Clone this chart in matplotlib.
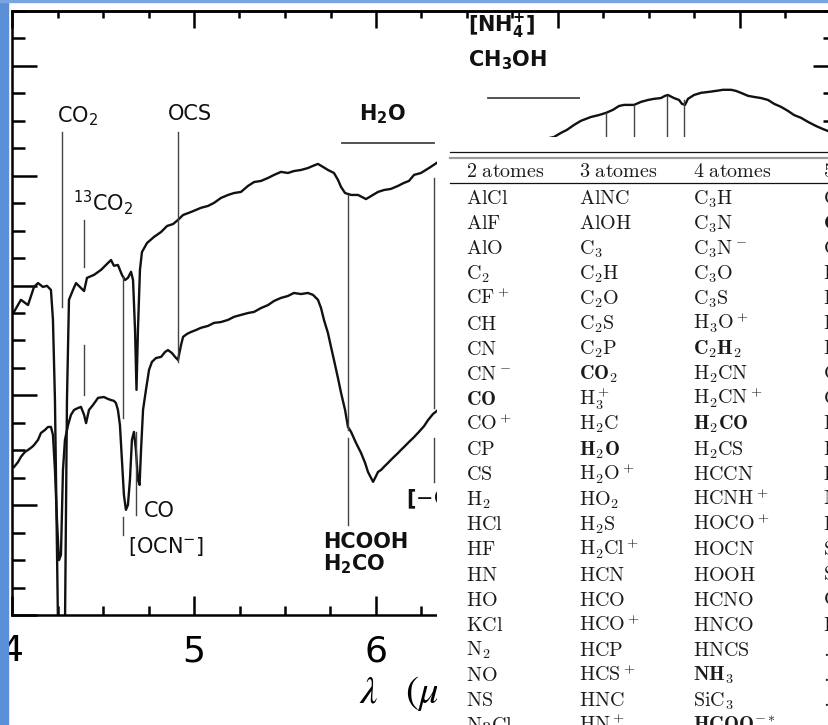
import matplotlib.pyplot as plt
from matplotlib.ticker import MultipleLocator
from matplotlib.patches import Rectangle

plt.rcParams['font.family'] = 'DejaVu Sans'
plt.rcParams['mathtext.fontset'] = 'dejavusans'

# --- ISO spectra (wavelength in micron, flux in arbitrary units) ---
wl_top = [4.011, 4.049, 4.088, 4.121, 4.143, 4.170, 4.192, 4.214, 4.225, 4.236,
          4.253, 4.291, 4.302, 4.313, 4.335, 4.352, 4.379, 4.396, 4.412, 4.451,
          4.489, 4.527, 4.544, 4.560, 4.582, 4.604, 4.621, 4.637, 4.654, 4.665,
          4.676, 4.684, 4.692, 4.703, 4.714, 4.742, 4.780, 4.819, 4.852, 4.885,
          4.912, 4.940, 4.984, 5.038, 5.077, 5.110, 5.148, 5.187, 5.220, 5.258,
          5.297, 5.330, 5.368, 5.407, 5.440, 5.478, 5.516, 5.549, 5.588, 5.626,
          5.654, 5.681, 5.709, 5.736, 5.769, 5.791, 5.808, 5.830, 5.863, 5.901,
          5.945, 5.973, 6.011, 6.044, 6.082, 6.121, 6.154, 6.181, 6.209, 6.247,
          6.291, 6.341, 6.978, 7.016, 7.049, 7.088, 7.126, 7.181, 7.225, 7.264,
          7.302, 7.335, 7.363, 7.418, 7.456, 7.495, 7.527, 7.566, 7.588, 7.604,
          7.637, 7.665, 7.681, 7.698, 7.714, 7.747, 7.786, 7.824, 7.868, 7.907,
          7.951, 7.978, 8.005, 8.044, 8.077, 8.115, 8.154, 8.187, 8.225, 8.264,
          8.297, 8.335, 8.374, 8.418, 8.456, 8.495, 8.527]
flux_top = [11.04, 11.48, 11.29, 11.95, 12.09, 11.95, 11.99, 11.84, 10.75, 7.83,
            -0.5, -0.5, 7.83, 11.48, 11.84, 12.09, 11.91, 11.80, 12.28, 12.39,
            12.57, 12.82, 12.93, 12.72, 12.75, 12.39, 12.20, 12.28, 12.50, 12.20,
            10.38, 8.20, 10.38, 12.57, 13.22, 13.55, 13.77, 13.95, 14.17, 14.24,
            14.39, 14.57, 14.68, 14.83, 14.90, 15.01, 15.19, 15.30, 15.37, 15.41,
            15.63, 15.77, 15.81, 15.92, 16.03, 16.14, 16.10, 16.17, 16.21, 16.28,
            16.36, 16.43, 16.32, 16.21, 16.10, 15.85, 15.59, 15.37, 15.30, 15.30,
            15.15, 15.26, 15.41, 15.48, 15.52, 15.63, 15.74, 15.81, 16.03, 16.10,
            16.28, 16.50, 17.41, 17.56, 17.67, 17.85, 18.00, 18.14, 18.21, 18.29,
            18.40, 18.54, 18.58, 18.58, 18.69, 18.76, 18.80, 18.83, 18.91, 18.94,
            18.83, 18.76, 18.62, 18.58, 18.80, 18.94, 19.02, 19.05, 19.09, 19.13,
            19.13, 19.09, 19.02, 18.91, 18.87, 18.83, 18.76, 18.62, 18.51, 18.36,
            18.21, 18.11, 17.96, 17.81, 17.70, 17.60, 17.49]

wl_bot = [4.011, 4.033, 4.049, 4.071, 4.088, 4.110, 4.121, 4.143, 4.159, 4.181,
          4.198, 4.214, 4.225, 4.236, 4.247, 4.258, 4.269, 4.280, 4.291, 4.308,
          4.324, 4.341, 4.363, 4.379, 4.396, 4.407, 4.423, 4.445, 4.473, 4.505,
          4.527, 4.544, 4.560, 4.571, 4.582, 4.593, 4.604, 4.615, 4.626, 4.637,
          4.648, 4.659, 4.670, 4.681, 4.692, 4.701, 4.709, 4.720, 4.736, 4.753,
          4.769, 4.791, 4.819, 4.841, 4.857, 4.879, 4.896, 4.912, 4.929, 4.940,
          4.962, 4.984, 5.011, 5.038, 5.077, 5.110, 5.148, 5.187, 5.220, 5.258,
          5.297, 5.330, 5.368, 5.407, 5.440, 5.478, 5.516, 5.549, 5.588, 5.626,
          5.654, 5.681, 5.698, 5.714, 5.736, 5.753, 5.769, 5.791, 5.808, 5.830,
          5.846, 5.863, 5.890, 5.918, 5.940, 5.956, 5.973, 5.984, 6.000, 6.011,
          6.027, 6.049, 6.066, 6.082, 6.099, 6.121, 6.137, 6.154, 6.181, 6.209,
          6.236, 6.264, 6.286, 6.313, 6.341, 6.385]
flux_bot = [5.39, 5.57, 5.76, 5.94, 6.01, 6.12, 6.19, 6.38, 6.63, 6.74,
            6.85, 6.85, 6.56, 5.28, 3.46, 2.00, 2.19, 5.28, 6.38, 6.92,
            7.29, 7.47, 7.54, 7.58, 7.29, 6.99, 7.47, 7.65, 7.91, 7.94,
            7.87, 7.83, 7.80, 7.72, 7.47, 6.92, 5.65, 4.37, 3.83, 4.01,
            4.92, 6.38, 6.67, 6.01, 4.92, 4.74, 6.01, 7.47, 8.20, 8.93,
            9.22, 9.36, 9.40, 9.58, 9.65, 9.54, 9.40, 9.29, 9.84, 10.13,
            10.24, 10.31, 10.38, 10.46, 10.53, 10.64, 10.67, 10.75, 10.86, 10.93,
            11.00, 11.04, 11.18, 11.29, 11.44, 11.55, 11.62, 11.73, 11.69, 11.73,
            11.66, 11.48, 11.18, 10.75, 10.27, 9.76, 9.29, 8.63, 8.09, 7.47,
            6.85, 6.67, 6.27, 5.90, 5.54, 5.21, 4.99, 4.85, 5.06, 5.21,
            5.28, 5.43, 5.54, 5.65, 5.76, 5.90, 6.01, 6.12, 6.30, 6.48,
            6.67, 6.88, 7.10, 7.32, 7.47, 7.65]

# identification ticks: wavelength, flux from, flux to
id_wl = [4.275, 4.396, 4.396, 4.912, 4.610, 4.610, 4.681, 5.846, 5.846,
         6.319, 6.319, 7.264, 7.418, 7.599, 7.692]
id_lo = [11.22, 12.68, 8.01, 9.22, 7.18, 2.91, 3.64, 6.74, 3.28,
         7.54, 4.85, 17.0, 17.0, 17.0, 17.0]
id_hi = [17.60, 14.39, 9.84, 17.60, 12.31, 3.57, 6.67, 15.30, 6.45,
         15.92, 6.45, 18.29, 18.58, 18.91, 18.76]

# horizontal bars over broad bands
band_x0 = [5.813, 6.615]
band_x1 = [6.319, 7.115]
band_y = [17.20, 18.83]

feat_text = [r'CO$_2$', r'$^{13}$CO$_2$', 'OCS', r'H$_\mathbf{2}$O', 'CO',
             r'[OCN$^{-}$]', 'HCOOH', r'H$_\mathbf{2}$CO', r'[$-$CH$_\mathbf{3}$]',
             r'[NH$_\mathbf{4}^\mathbf{+}$]', r'CH$_\mathbf{3}$OH']
feat_x = [4.247, 4.335, 4.857, 5.907, 4.725, 4.637, 5.709, 5.709, 6.165, 6.505, 6.505]
feat_y = [17.96, 14.72, 18.03, 18.00, 3.57, 2.26, 2.44, 1.64, 4.01, 21.24, 20.00]
feat_bold = [False, False, False, True, False, False, True, True, True, True, True]

# --- molecules table ---
headers = ['2 atomes', '3 atomes', '4 atomes', '5 atomes']
atoms2 = ['AlCl', 'AlF', 'AlO', 'C_2', 'CF^+', 'CH', 'CN', 'CN^-', 'CO', 'CO^+',
          'CP', 'CS', 'H_2', 'HCl', 'HF', 'HN', 'HO', 'KCl', 'N_2', 'NO', 'NS', 'NaCl']
atoms3 = ['AlNC', 'AlOH', 'C_3', 'C_2H', 'C_2O', 'C_2S', 'C_2P', 'CO_2', 'H_3^+', 'H_2C',
          'H_2O', 'H_2O^+', 'HO_2', 'H_2S', 'H_2Cl^+', 'HCN', 'HCO', 'HCO^+', 'HCP',
          'HCS^+', 'HNC', 'HN_2^+']
atoms4 = ['C_3H', 'C_3N', 'C_3N^-', 'C_3O', 'C_3S', 'H_3O^+', 'C_2H_2', 'H_2CN',
          'H_2CN^+', 'H_2CO', 'H_2CS', 'HCCN', 'HCNH^+', 'HOCO^+', 'HOCN', 'HOOH',
          'HCNO', 'HNCO', 'HNCS', 'NH_3', 'SiC_3', 'HCOO^{-*}']
atoms5 = ['C_4H', 'CH_4', 'C_4Si', 'HC_3N', 'HC_2NC', 'HNC_3', 'H_2CCN', 'CH_2NH',
          'C_5', 'H_2C_2O', 'H_2NCN', 'HCOOH', 'NH_4^+', 'HC(O)CN', 'SiC_4', 'SiH_4',
          'CH_3O', 'HNCNH', '...', '...', '...']
bold_mols = {'CO', 'CO_2', 'H_2O', 'C_2H_2', 'H_2CO', 'NH_3', 'HCOO^{-*}', 'CH_4', 'HCOOH'}

W, H = 829, 725
fig = plt.figure(figsize=(W / 100, H / 100), dpi=100)

ax = fig.add_axes([12 / W, 110 / H, (830 - 12) / W, 604 / H])
ax.plot(wl_top, flux_top, color='#111111', lw=1.7, solid_joinstyle='round')
ax.plot(wl_bot, flux_bot, color='#111111', lw=1.7, solid_joinstyle='round')

for x, lo, hi in zip(id_wl, id_lo, id_hi):
    ax.plot([x, x], [lo, hi], color='#444444', lw=1.0)
for x0, x1, y in zip(band_x0, band_x1, band_y):
    ax.plot([x0, x1], [y, y], color='#444444', lw=1.3)

for t, x, y, b in zip(feat_text, feat_x, feat_y, feat_bold):
    ax.text(x, y, t, fontsize=15, fontweight='bold' if b else 'normal',
            ha='left', va='baseline', color='#111111')

ax.set_xlim(4.0, 4 + (830 - 12) / 182)
ax.set_ylim(0, 22)
ax.xaxis.set_major_locator(MultipleLocator(1))
ax.xaxis.set_minor_locator(MultipleLocator(0.25))
ax.yaxis.set_major_locator(MultipleLocator(4))
ax.yaxis.set_minor_locator(MultipleLocator(1))
ax.tick_params(axis='x', which='major', direction='in', length=14, width=1.8,
               labelsize=26, pad=14, top=False)
ax.tick_params(axis='x', which='minor', direction='in', length=6.5, width=1.8, top=False)
ax.tick_params(axis='y', which='major', direction='in', length=18, width=1.8,
               labelleft=False, right=False)
ax.tick_params(axis='y', which='minor', direction='in', length=9.5, width=1.8, right=False)
for sp in ax.spines.values():
    sp.set_linewidth(1.8)

top = ax.secondary_xaxis('top')
top.xaxis.set_major_locator(MultipleLocator(1))
top.xaxis.set_minor_locator(MultipleLocator(0.25))
top.tick_params(which='major', direction='in', length=12, width=1.8, labeltop=False)
top.tick_params(which='minor', direction='in', length=5, width=1.8)
right = ax.secondary_yaxis('right')
right.yaxis.set_major_locator(MultipleLocator(4))
right.yaxis.set_minor_locator(MultipleLocator(1))
right.tick_params(which='major', direction='in', length=12, width=1.8, labelright=False)
right.tick_params(which='minor', direction='in', length=5, width=1.8)
for s in (top, right):
    for sp in s.spines.values():
        sp.set_linewidth(1.8)

ax.set_xlabel(r'$\lambda\quad(\mu\mathrm{m})$', fontsize=28, math_fontfamily='stix',
              labelpad=4)

# table panel on a white background
tab = fig.add_axes([437 / W, 0, (832 - 437) / W, (725 - 137) / H])
tab.set_xticks([])
tab.set_yticks([])
for sp in tab.spines.values():
    sp.set_visible(False)
tab.set_xlim(437, 832)
tab.set_ylim(725, 137)

tab.plot([450, 832], [152, 152], color='#111111', lw=0.9)
tab.plot([450, 832], [158, 158], color='#999999', lw=1.6)
tab.plot([450, 832], [183, 183], color='#111111', lw=0.9)

col_x = [466, 579, 693, 823]
for cx, head in zip(col_x, headers):
    tab.text(cx, 177, r'$\mathrm{%s}$' % head.replace(' ', r'\ '), fontsize=14.5,
             math_fontfamily='cm', ha='left', va='baseline', color='#1a1a1a')
for cx, col in zip(col_x, [atoms2, atoms3, atoms4, atoms5]):
    for i, mol in enumerate(col):
        style = r'\mathbf' if mol in bold_mols else r'\mathrm'
        tab.text(cx, 204 + 25.1 * i, r'$%s{%s}$' % (style, mol), fontsize=14.5,
                 math_fontfamily='cm', ha='left', va='baseline', color='#1a1a1a')

# slide frame in blue
fig.patches.append(Rectangle((0, 0), 8 / W, 1, transform=fig.transFigure,
                             color='#5b8fd8', zorder=10))
fig.patches.append(Rectangle((0, 1 - 2 / H), 1, 2 / H, transform=fig.transFigure,
                             color='#7aa5e3', zorder=10))

fig.savefig('out.png', dpi=100)
